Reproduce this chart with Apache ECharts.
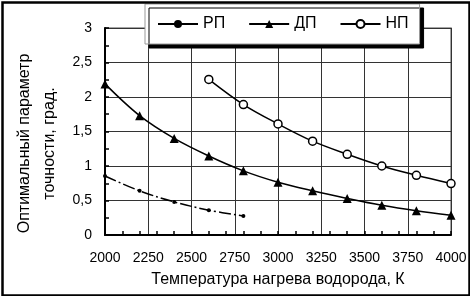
<!DOCTYPE html>
<html lang="ru">
<head>
    <meta charset="UTF-8">
    <script src="https://cdn.jsdelivr.net/npm/echarts@6/dist/echarts.min.js"></script>
    <style>
        html, body { margin: 0; padding: 0; background: #fff; }
        #pic { width: 470px; height: 296px; }
    </style>
    <title>Оптимальный параметр точности</title>
</head>
<body>
<div id="pic"></div>
<script type="text/javascript">
    // температура, К
    var tempRP = [2000, 2200, 2400, 2600, 2800];
    var tempDP = [2000, 2200, 2400, 2600, 2800, 3000, 3200, 3400, 3600, 3800, 4000];
    var tempNP = [2600, 2800, 3000, 3200, 3400, 3600, 3800, 4000];
    // параметр точности, град.
    var valRP = [0.855, 0.64, 0.48, 0.36, 0.275];
    var valDP = [2.19, 1.73, 1.40, 1.145, 0.93, 0.765, 0.64, 0.53, 0.43, 0.35, 0.285];
    var valNP = [2.255, 1.89, 1.61, 1.36, 1.17, 1.0, 0.865, 0.745];
    var seriesNames = ['РП', 'ДП', 'НП'];

    function pairs(xs, ys) {
        var out = [];
        for (var i = 0; i < xs.length; i++) out.push([xs[i], ys[i]]);
        return out;
    }

    var font = '"Liberation Sans", Arial, sans-serif';
    var chart = echarts.init(document.getElementById('pic'));
    var option = {
        animation: false,
        backgroundColor: '#fff',
        textStyle: { fontFamily: font },
        grid: {
            left: 105, top: 28, width: 346, height: 207,
            show: true, borderColor: '#888', borderWidth: 1.5, backgroundColor: 'transparent'
        },
        legend: {
            data: [
                { name: seriesNames[0], lineStyle: { type: 'solid' } },
                seriesNames[1],
                seriesNames[2]
            ],
            left: 145, top: 4,
            padding: [12, 11, 12, 12],
            itemWidth: 40, itemHeight: 10, itemGap: 23,
            backgroundColor: '#fff',
            borderColor: '#999', borderWidth: 1,
            shadowColor: '#000', shadowBlur: 0, shadowOffsetX: 4, shadowOffsetY: 4,
            textStyle: { fontSize: 16, color: '#000', fontFamily: font }
        },
        xAxis: [{
            type: 'value', min: 2000, max: 4000, interval: 250,
            name: 'Температура нагрева водорода, К',
            nameLocation: 'middle', nameGap: 37,
            nameTextStyle: { fontSize: 16, color: '#000' },
            axisLine: { show: true, lineStyle: { color: '#000', width: 2 } },
            axisTick: { show: false },
            axisLabel: {
                fontSize: 14, color: '#000', margin: 16,
                formatter: function (v) { return String(v); }
            },
            splitLine: { show: true, lineStyle: { color: '#333', width: 1 } }
        }, {
            type: 'value', min: 2000, max: 4000, interval: 100,
            position: 'bottom',
            axisLine: { show: false },
            axisTick: { show: true, inside: true, length: 4, lineStyle: { color: '#000', width: 1.5 } },
            axisLabel: { show: false },
            splitLine: { show: false }
        }],
        yAxis: {
            type: 'value', min: 0, max: 3, interval: 0.5,
            name: 'Оптимальный параметр\nточности, град.',
            nameLocation: 'middle', nameGap: 40,
            nameTextStyle: { fontSize: 16, color: '#000', lineHeight: 25, padding: [0, 24, 0, 0] },
            axisLine: { show: true, lineStyle: { color: '#000', width: 2 } },
            axisTick: { show: true, inside: true, length: 4, lineStyle: { color: '#000', width: 1.5 } },
            minorTick: { show: true, splitNumber: 2, length: 4, lineStyle: { color: '#000', width: 1.5 } },
            axisLabel: {
                fontSize: 14, color: '#000', margin: 13,
                formatter: function (v) { return String(v).replace('.', ','); }
            },
            splitLine: { show: true, lineStyle: { color: '#333', width: 1 } }
        },
        graphic: [{
            type: 'rect', left: 0, top: 0, z: 100,
            shape: { x: 1, y: 1, width: 467, height: 293 },
            style: { fill: 'none', stroke: '#000', lineWidth: 2.5 }
        }],
        series: [{
            name: 'РП', type: 'line', smooth: 0.35,
            data: pairs(tempRP, valRP),
            symbol: 'circle', symbolSize: 4,
            itemStyle: { color: '#000' },
            lineStyle: { color: '#000', width: 1.5, type: [12, 3, 2, 3] }
        }, {
            name: 'ДП', type: 'line', smooth: 0.35,
            data: pairs(tempDP, valDP),
            symbol: 'triangle', symbolSize: 9,
            itemStyle: { color: '#000' },
            lineStyle: { color: '#000', width: 1.5 }
        }, {
            name: 'НП', type: 'line', smooth: 0.35,
            data: pairs(tempNP, valNP),
            symbol: 'circle', symbolSize: 8,
            itemStyle: { color: '#fff', borderColor: '#000', borderWidth: 1.5 },
            lineStyle: { color: '#000', width: 1.5 }
        }]
    };
    chart.setOption(option);
</script>
</body>
</html>
